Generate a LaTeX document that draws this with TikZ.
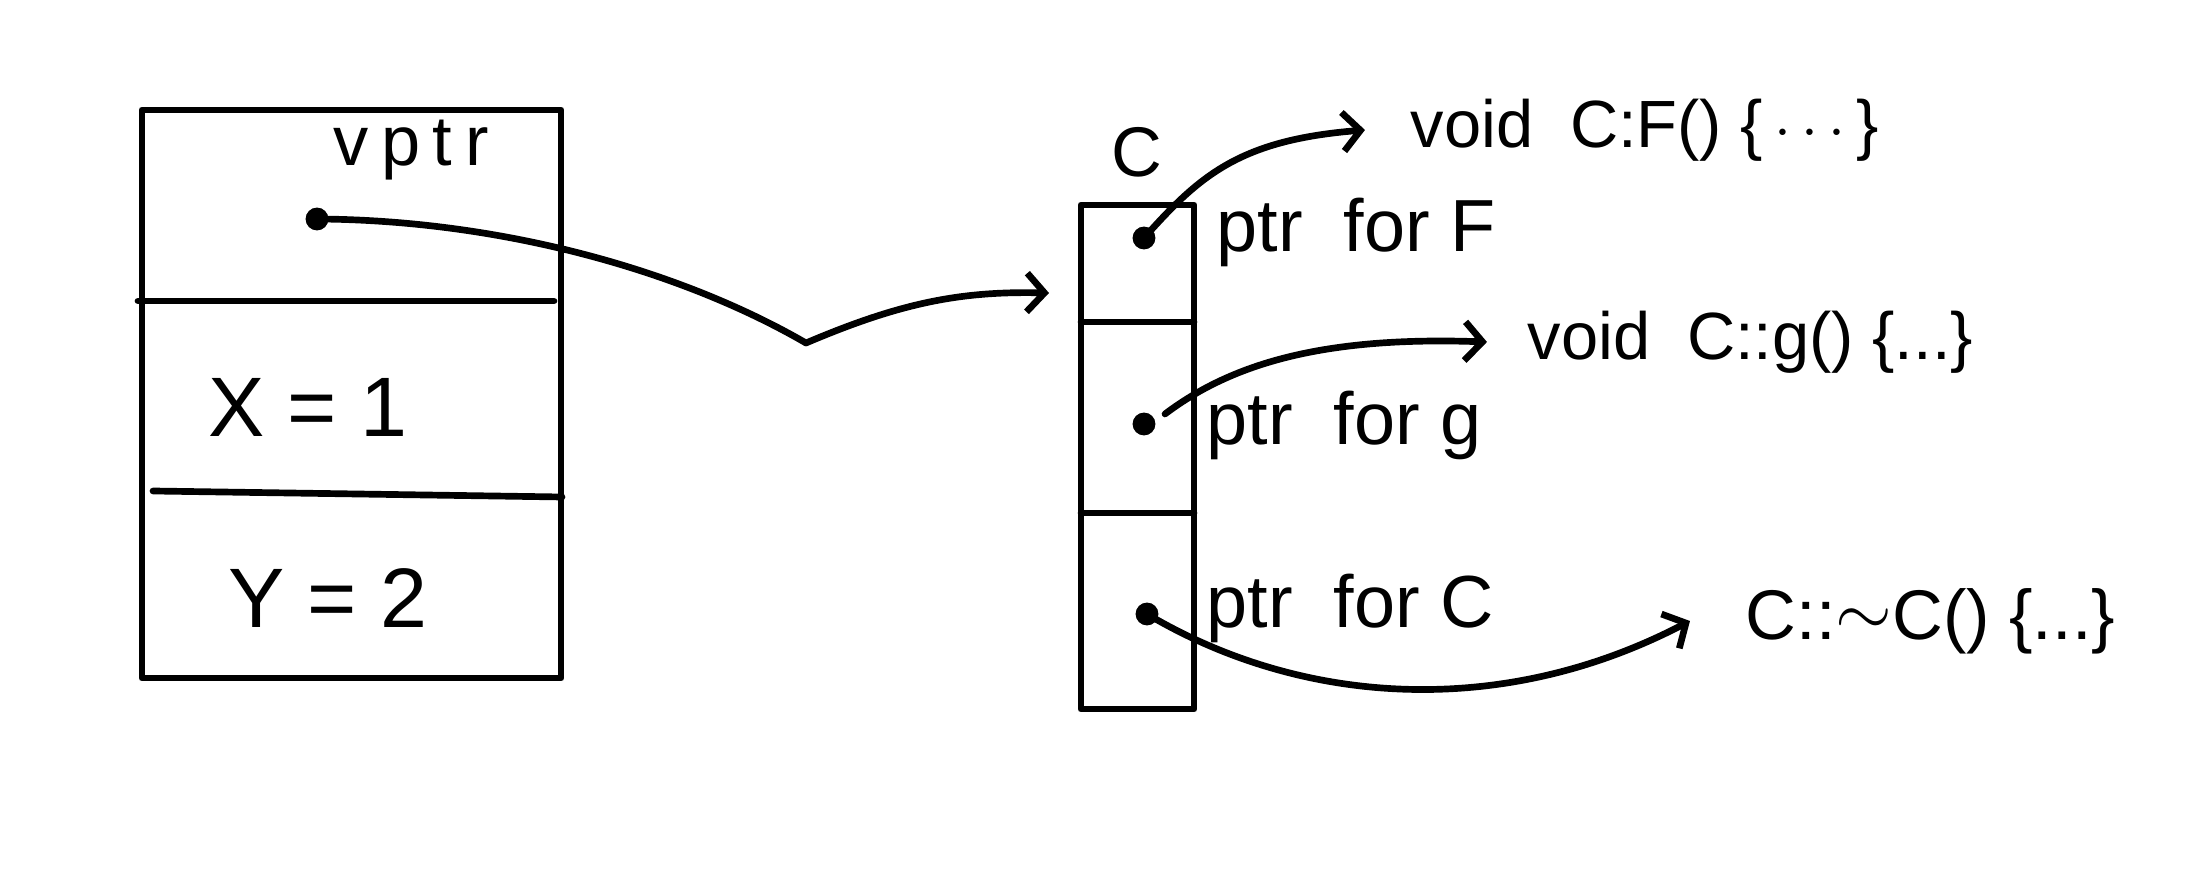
\documentclass[tikz,border=0pt]{standalone}
\usepackage{fontspec}
\setmainfont{Liberation Sans}
\usetikzlibrary{arrows.meta}

\tikzset{
  ink/.style={line width=1.9pt, line cap=round, line join=round},
  link/.style={ink, -{Straight Barb[length=5pt,width=11pt,line width=1.9pt]}},
  dot/.style={circle, fill=black, inner sep=0pt, minimum size=6.5pt},
  small/.style={font=\fontsize{20}{24}\selectfont, inner sep=0pt},
  cell/.style={font=\fontsize{21}{24}\selectfont, inner sep=0pt, anchor=west},
  big/.style={font=\fontsize{24}{28}\selectfont, inner sep=0pt},
  code/.style={font=\fontsize{19}{22}\selectfont, inner sep=0pt, anchor=west}
}
\newcommand{\gap}{\hspace{0.55em}}

\begin{document}
\begin{tikzpicture}[x=0.01cm,y=-0.01cm]
\useasboundingbox (0,0) rectangle (2187,886);

% object layout: vptr, x, y
\draw[ink] (142,110) rectangle (561,678);
\draw[ink] (138,301) -- (554,301);
\draw[ink] (153,491) -- (562,497);
\node[small] (vptrlbl) at (411,150) {\addfontfeatures{LetterSpace=18}vptr};
\node[dot] (vptr) at (317,219) {};
\node[big] (xval) at (308,407) {X = 1};
\node[big] (yval) at (328,598) {Y = 2};

% vtable of C
\draw[ink] (1081,205) rectangle (1194,709);
\draw[ink] (1081,322) -- (1194,322);
\draw[ink] (1081,513) -- (1194,513);
\node[small] (clbl) at (1137,152) {C};
\node[dot] (pf) at (1144,238) {};
\node[dot] (pg) at (1144,424) {};
\node[dot] (pc) at (1147,614) {};
\node[cell] (tf) at (1216,232) {ptr\gap for F};
\node[cell] (tg) at (1206,425) {ptr\gap for g};
\node[cell] (tc) at (1206,608) {ptr\gap for C};

% function bodies
\node[code] (ff) at (1410,130) {void\gap C:F()\ \{\,$\cdots$\,\}};
\node[code] (fg) at (1527,342) {void\gap C::g()\ \{...\}};
\node[code, font=\fontsize{20}{24}\selectfont] (fc) at (1745,621) {C::\raisebox{0.1ex}{$\sim$}C()\ \{...\}};

% pointers
\coordinate (kink) at (806,343);
\coordinate (vtab) at (1049,293);
\draw[ink] (vptr.center) .. controls (500,220) and (680,270) .. (kink);
\draw[link] (kink) .. controls (900,303) and (960,291) .. (vtab);

\coordinate (gstart) at (1165,414);
\draw[link] (pf.center) .. controls (1200,175) and (1240,140) .. ([xshift=-0.45cm]ff.west);
\draw[link] (gstart) .. controls (1230,365) and (1320,336) .. ([xshift=-0.4cm]fg.west);
\draw[link] (pc.center) .. controls (1300,705) and (1500,720) .. ([xshift=-0.55cm]fc.west);
\end{tikzpicture}
\end{document}
